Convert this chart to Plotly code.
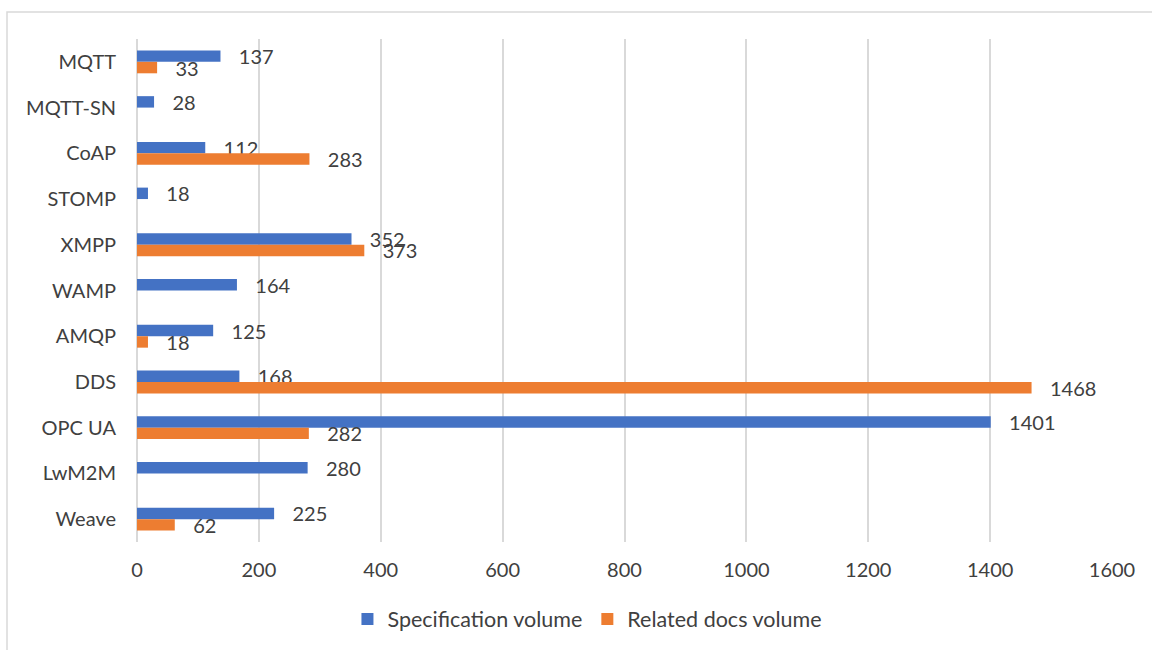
import plotly.graph_objects as go

categories = ["MQTT", "MQTT-SN", "CoAP", "STOMP", "XMPP", "WAMP", "AMQP", "DDS", "OPC UA", "LwM2M", "Weave"]
spec_volume = [137, 28, 112, 18, 352, 164, 125, 168, 1401, 280, 225]
related_volume = [33, None, 283, None, 373, None, 18, 1468, 282, None, 62]

FONT = "Lato"
TXT = "#404040"
PAD = "\u00a0\u00a0\u00a0"
FS = 20

def labels(vals):
    return [(PAD + str(v)) if v is not None else "" for v in vals]

fig = go.Figure()
fig.add_trace(go.Bar(
    y=categories, x=spec_volume, orientation="h", name="Specification volume",
    marker=dict(color="#4472C4", line=dict(width=0)),
    text=labels(spec_volume), textposition="outside", cliponaxis=False,
    textfont=dict(family=FONT, size=FS, color=TXT), constraintext="none",
))
fig.add_trace(go.Bar(
    y=categories, x=related_volume, orientation="h", name="Related docs volume",
    marker=dict(color="#ED7D31", line=dict(width=0)),
    text=labels(related_volume), textposition="outside", cliponaxis=False,
    textfont=dict(family=FONT, size=FS, color=TXT), constraintext="none",
))

fig.update_layout(
    width=1152, height=650,
    margin=dict(l=137, r=40, t=39, b=107),
    paper_bgcolor="white", plot_bgcolor="white",
    barmode="group", bargap=0.5, bargroupgap=0,
    font=dict(family=FONT, size=FS, color=TXT),
    showlegend=True,
    legend=dict(orientation="h", x=0.462, xanchor="center", y=-0.151, yanchor="middle",
                font=dict(family=FONT, size=21.5, color=TXT), itemwidth=30,
                traceorder="normal"),
    xaxis=dict(range=[0, 1600], dtick=200, showgrid=True, gridcolor="#d9d9d9", gridwidth=1.5,
               zeroline=True, zerolinecolor="#d9d9d9", zerolinewidth=1.5,
               showline=False, ticks="", ticklabelstandoff=14,
               tickfont=dict(family=FONT, size=FS, color=TXT)),
    yaxis=dict(autorange="reversed", showgrid=False, zeroline=False, showline=False,
               ticks="", ticklabelstandoff=20,
               tickfont=dict(family=FONT, size=FS, color=TXT)),
    shapes=[dict(type="rect", xref="paper", yref="paper",
                 x0=(7 - 137) / 975, x1=1.2, y0=-0.3, y1=(543 - 12) / 504,
                 line=dict(color="#d9d9d9", width=1.5), fillcolor="rgba(0,0,0,0)", layer="below")],
)

fig.write_html("out.html")
